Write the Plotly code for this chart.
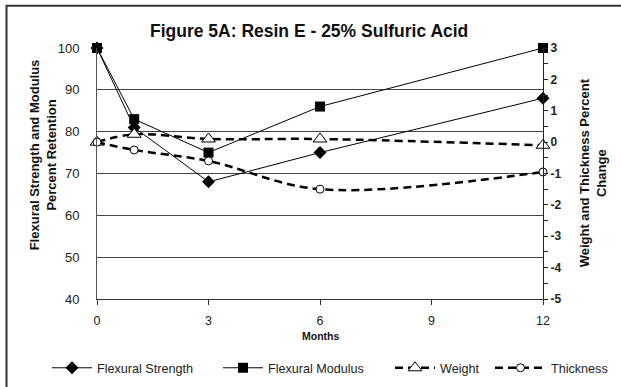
import plotly.graph_objects as go

months = [0, 1, 3, 6, 12]
flex_strength = [100, 81, 68, 75, 88]
flex_modulus = [100, 83, 75, 86, 100]
weight = [0.0, 0.25, 0.1, 0.1, -0.1]
thickness = [0.0, -0.25, -0.6, -1.5, -0.95]

x_ticks = [0, 3, 6, 9, 12]
left_ticks = [40, 50, 60, 70, 80, 90, 100]
right_ticks = [-5, -4, -3, -2, -1, 0, 1, 2, 3]
right_tick_labels = ["-5", "-4", "-3", "-2", "-1", "0", "1", "2", "3"]

FONT = "Arial, Liberation Sans, sans-serif"
W, H = 621, 387
L, R, T, B = 97, 543, 48.3, 299

def px(xp):
    return (xp - L) / (R - L)

def py(yp):
    return (B - yp) / (B - T)

fig = go.Figure()
fig.add_trace(go.Scatter(
    x=months, y=flex_strength, name="Flexural Strength", mode="lines+markers",
    line=dict(color="black", width=1),
    marker=dict(symbol="diamond", size=10, color="black"),
    cliponaxis=False, legend="legend"))
fig.add_trace(go.Scatter(
    x=months, y=flex_modulus, name="Flexural Modulus", mode="lines+markers",
    line=dict(color="black", width=1),
    marker=dict(symbol="square", size=10, color="black"),
    cliponaxis=False, legend="legend2"))
fig.add_trace(go.Scatter(
    x=months, y=weight, name="Weight", mode="lines+markers", yaxis="y2",
    line=dict(color="black", width=2.5, dash="8px,5px", shape="spline", smoothing=1),
    marker=dict(symbol="triangle-up", size=12, color="white", line=dict(color="black", width=1)),
    cliponaxis=False, legend="legend3"))
fig.add_trace(go.Scatter(
    x=months, y=thickness, name="Thickness", mode="lines+markers", yaxis="y2",
    line=dict(color="black", width=2.5, dash="8px,5px", shape="spline", smoothing=1),
    marker=dict(symbol="circle", size=8, color="white", line=dict(color="black", width=1)),
    cliponaxis=False, legend="legend4"))

leg_common = dict(orientation="h", yanchor="middle", xanchor="left",
                  font=dict(family=FONT, size=12.6, color="#222"),
                  bgcolor="rgba(0,0,0,0)", borderwidth=0, itemwidth=40)
ly = py(368)

fig.update_layout(
    width=W, height=H,
    margin=dict(l=L, r=W - R, t=T, b=H - B, autoexpand=False),
    paper_bgcolor="white", plot_bgcolor="white",
    font=dict(family=FONT, color="#222"),
    xaxis=dict(range=[0, 12], tickvals=x_ticks, ticks="outside", ticklen=5,
               tickcolor="#333", showline=True, linecolor="#333", linewidth=1,
               showgrid=False, zeroline=False, tickfont=dict(size=12.5, color="#222"),
               ticklabelstandoff=5, automargin=False),
    yaxis=dict(range=[40, 100], tickvals=left_ticks, ticks="", showline=True,
               linecolor="#555", linewidth=1, showgrid=True, gridcolor="#444",
               gridwidth=1, zeroline=False, tickfont=dict(size=13, color="#222"),
               ticklabelstandoff=14, automargin=False),
    yaxis2=dict(range=[-5, 3], tickvals=right_ticks, ticktext=right_tick_labels,
                overlaying="y", side="right",
                anchor="x", ticks="outside", ticklen=4, tickcolor="#222",
                minor=dict(dtick=0.5, tick0=0, ticks="outside", ticklen=4, tickcolor="#222"),
                showline=True, linecolor="#222", linewidth=1, showgrid=False,
                zeroline=False, tickfont=dict(size=12, color="#222", weight="bold"),
                automargin=False),
    yaxis3=dict(range=[-5, 3], dtick=0.5, tick0=0, overlaying="y", side="right",
                anchor="x", ticks="inside", ticklen=4, tickcolor="#222",
                showticklabels=False, showline=False, showgrid=False, zeroline=False),
    legend=dict(x=px(47), y=ly, **leg_common),
    legend2=dict(x=px(218), y=ly, **leg_common),
    legend3=dict(x=px(390), y=ly, **leg_common),
    legend4=dict(x=px(490), y=ly, **{**leg_common, "itemwidth": 51}),
    showlegend=True,
)

fig.add_annotation(text="<b>Figure 5A: Resin E - 25% Sulfuric Acid</b>",
                   xref="paper", yref="paper", x=px(309), y=py(31.5),
                   xanchor="center", yanchor="middle", showarrow=False,
                   font=dict(family=FONT, size=17.5, color="#111"))
fig.add_annotation(text="<b>Flexural Strength and Modulus<br>Percent Retention</b>",
                   xref="paper", yref="paper", x=px(42.5), y=py(155),
                   xanchor="center", yanchor="middle", showarrow=False, textangle=-90,
                   font=dict(family=FONT, size=13, color="#111"))
fig.add_annotation(text="<b>Weight and Thickness Percent<br>Change</b>",
                   xref="paper", yref="paper", x=px(593), y=py(173.5),
                   xanchor="center", yanchor="middle", showarrow=False, textangle=-90,
                   font=dict(family=FONT, size=13, color="#111"))
fig.add_annotation(text="<b>Months</b>", xref="paper", yref="paper",
                   x=px(320), y=py(336), xanchor="center", yanchor="middle",
                   showarrow=False, font=dict(family=FONT, size=10.5, color="#111"))

fig.add_shape(type="rect", xref="paper", yref="paper",
              x0=px(6.5), x1=px(640), y0=py(400), y1=py(6),
              line=dict(color="#333", width=2), fillcolor="rgba(0,0,0,0)", layer="below")

fig.write_html("out.html")
